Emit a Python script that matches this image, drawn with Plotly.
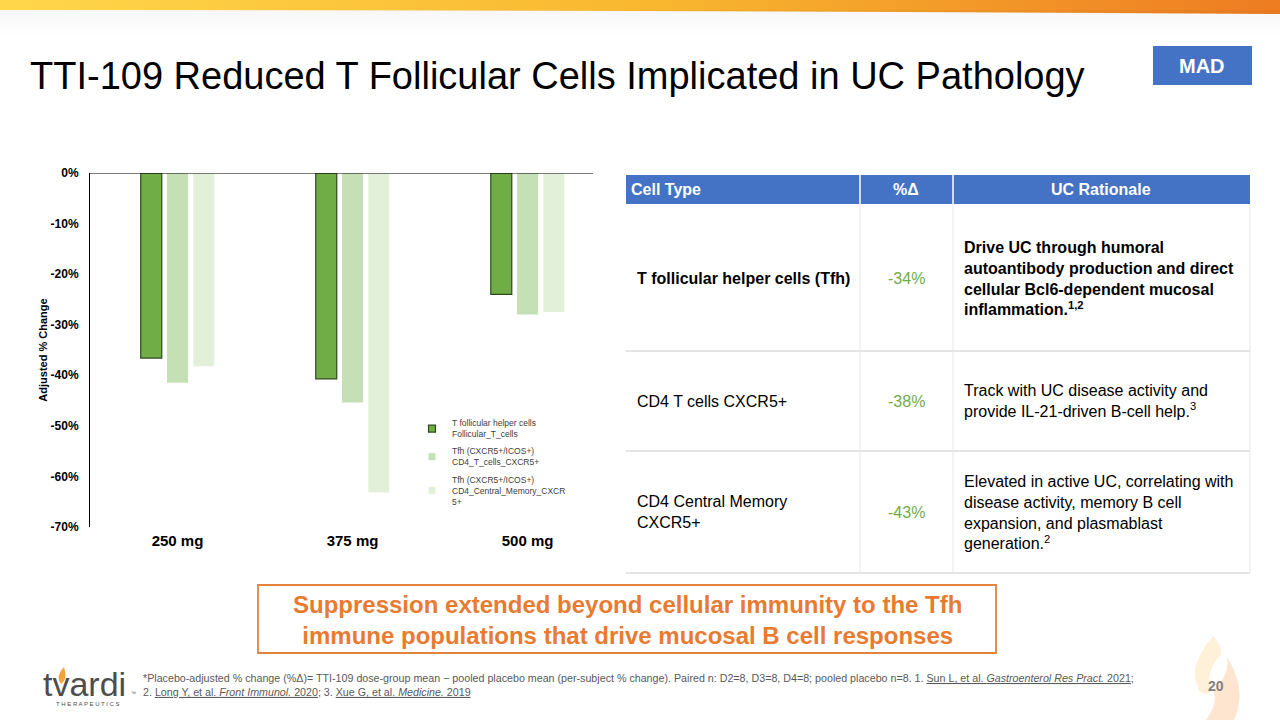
import plotly.graph_objects as go

### DATA

doses = ["250 mg", "375 mg", "500 mg"]
tfh_follicular = [-36.6, -40.7, -24.0]
tfh_cd4_cxcr5 = [-41.5, -45.4, -28.0]
tfh_cd4_cm_cxcr5 = [-38.2, -63.2, -27.5]
series_names = [
    "T follicular helper cells<br>Follicular_T_cells",
    "Tfh (CXCR5+/ICOS+)<br>CD4_T_cells_CXCR5+",
    "Tfh (CXCR5+/ICOS+)<br>CD4_Central_Memory_CXCR<br>5+",
]
y_ticks = [0, -10, -20, -30, -40, -50, -60, -70]

table_header = ["Cell Type", "%Δ", "UC Rationale"]
cell_types = ["<b>T follicular helper cells (Tfh)</b>", "CD4 T cells CXCR5+", "CD4 Central Memory<br>CXCR5+"]
pct_change = ["-34%", "-38%", "-43%"]
rationale = [
    "<b>Drive UC through humoral<br>autoantibody production and direct<br>cellular Bcl6-dependent mucosal<br>inflammation.<sup>1,2</sup></b>",
    "Track with UC disease activity and<br>provide IL-21-driven B-cell help.<sup>3</sup>",
    "Elevated in active UC, correlating with<br>disease activity, memory B cell<br>expansion, and plasmablast<br>generation.<sup>2</sup>",
]

### HELPERS

W, H = 1280, 720
FONT = "Liberation Sans, Arial, sans-serif"


def px(x):
    return x / W


def py(y):
    return 1 - y / H


def note(x, y, text, size=12, color="#000", xanchor="left", yanchor="middle", align="left", bold=False):
    return dict(x=px(x), y=py(y), xref="paper", yref="paper", text=text, showarrow=False,
                xanchor=xanchor, yanchor=yanchor, align=align,
                font=dict(family=FONT, size=size, color=color, weight="bold" if bold else "normal"))


def rect(x0, y0, x1, y1, fill=None, line=None, width=0, layer="above"):
    return dict(type="rect", xref="paper", yref="paper", x0=px(x0), y0=py(y0), x1=px(x1), y1=py(y1),
                fillcolor=fill or "rgba(0,0,0,0)", line=dict(color=line or "rgba(0,0,0,0)", width=width),
                layer=layer)


def hline(x0, x1, y, color, width=1):
    return dict(type="line", xref="paper", yref="paper", x0=px(x0), x1=px(x1), y0=py(y), y1=py(y),
                line=dict(color=color, width=width))


def vline(x, y0, y1, color, width=1):
    return dict(type="line", xref="paper", yref="paper", x0=px(x), x1=px(x), y0=py(y0), y1=py(y1),
                line=dict(color=color, width=width))


def blob(pts, color):
    # pts: list of (cmd, [(x, y), ...]) in pixels
    d = ""
    for cmd, coords in pts:
        d += cmd + " " + " ".join("%.5f,%.5f" % (px(a), py(b)) for a, b in coords) + " "
    return dict(type="path", xref="paper", yref="paper", path=d + "Z", fillcolor=color,
                line=dict(width=0), layer="below")


def mix(c1, c2, t):
    return "rgb(%d,%d,%d)" % tuple(round(a + (b - a) * t) for a, b in zip(c1, c2))


### BARS

bar_colors = ["#70AD47", "#C5E0B4", "#E2F0D9"]
edge_colors = ["#2E4A1C", "#C5E0B4", "#E2F0D9"]
fig = go.Figure()
for k, (name, vals) in enumerate(zip(series_names, [tfh_follicular, tfh_cd4_cxcr5, tfh_cd4_cm_cxcr5])):
    fig.add_trace(go.Bar(
        x=doses, y=vals, name=name, legendgroup=str(k), showlegend=False,
        marker=dict(color=bar_colors[k], line=dict(color=edge_colors[k], width=1.2 if k == 0 else 0)),
        hoverinfo="x+y",
    ))
    # small square legend key, like the original chart
    fig.add_trace(go.Scatter(
        x=[None], y=[None], mode="markers", name=name, legendgroup=str(k),
        marker=dict(symbol="square", size=7, color=bar_colors[k],
                    line=dict(color=edge_colors[k], width=1.2 if k == 0 else 0)),
    ))

shapes = []

# top banner gradient
yellow, amber, orange = (255, 214, 74), (249, 184, 48), (238, 125, 34)
n = 80
for i in range(n):
    t = i / (n - 1)
    col = mix(yellow, amber, t * 2) if t < 0.5 else mix(amber, orange, (t - 0.5) * 2)
    x0 = W * i / n
    bottom = 10 + 4 * t * t
    shapes.append(rect(x0, 0, x0 + W / n + 0.5, bottom, fill=col, layer="below"))
for j in range(6):
    shapes.append(rect(0, 10 + 4 * j, W, 14 + 4 * j, fill="rgba(0,0,0,%.3f)" % (0.03 - 0.005 * j), layer="below"))

# zero line of the chart
shapes.append(dict(type="line", xref="x domain", yref="y", x0=0, x1=1, y0=0, y1=0,
                   line=dict(color="#000", width=1)))

# MAD badge
shapes.append(rect(1153, 46, 1252, 85, fill="#4472C4"))

# table
tx = [626, 860, 953, 1250]
row_y = [175, 204, 351, 451, 573]
shapes.append(rect(tx[0], row_y[0], tx[3], row_y[1], fill="#4472C4"))
for x in tx[1:3]:
    shapes.append(vline(x, row_y[0], row_y[1], "#FFFFFF", 1.5))
    shapes.append(vline(x, row_y[1], row_y[4], "#EFEFEF", 1.5))
shapes.append(vline(tx[3], row_y[1], row_y[4], "#EFEFEF", 1.5))
for y in row_y[2:]:
    shapes.append(hline(tx[0], tx[3], y, "#E4E4E4", 2))

# callout box
shapes.append(rect(258, 585, 996, 653, line="#E3843E", width=1.8))

# watermark flames
shapes.append(blob([("M", [(1213, 636)]), ("Q", [(1186, 668), (1199, 690)]), ("Q", [(1206, 698), (1212, 690)]),
                    ("Q", [(1204, 672), (1221, 655)]), ("Q", [(1222, 646), (1213, 636)])], "#FEF1D8"))
shapes.append(blob([("M", [(1227, 657)]), ("Q", [(1248, 690), (1234, 720)]), ("L", [(1206, 720)]),
                    ("Q", [(1219, 702), (1213, 690)]), ("Q", [(1230, 676), (1227, 657)])], "#FDE5CF"))

# logo flame
shapes.append(blob([("M", [(64, 667)]), ("Q", [(55, 676), (61, 684)]), ("Q", [(68, 680), (64, 667)])], "#F3A33A"))

annotations = []

# title
annotations.append(note(28, 76, "TTI-109 Reduced T Follicular Cells Implicated in UC Pathology", size=38, color="#000"))
annotations.append(note(1202, 66, "MAD", size=20, color="#FFFFFF", xanchor="center", bold=True))

# table text
hdr_x = [(629, "left"), (906, "center"), (1101, "center")]
for (x, anc), txt in zip(hdr_x, table_header):
    annotations.append(note(x, 190, txt, size=16, color="#FFFFFF", xanchor=anc, bold=True))
row_mid = [279, 401, 512]
for i in range(3):
    annotations.append(note(635, row_mid[i], cell_types[i], size=16, color="#000"))
    annotations.append(note(906, row_mid[i], pct_change[i], size=16, color="#70AD47", xanchor="center"))
    annotations.append(note(962, row_mid[i], rationale[i], size=16, color="#000"))

# callout text
annotations.append(note(627, 620, "Suppression extended beyond cellular immunity to the Tfh<br>immune populations that drive mucosal B cell responses",
                        size=24, color="#E87B30", xanchor="center", align="center", bold=True))

# footer
ul = "<span style='text-decoration:underline'>%s</span>"
foot = ("*Placebo-adjusted % change (%Δ)= TTI-109 dose-group mean − pooled placebo mean (per-subject % change). "
        "Paired n: D2=8, D3=8, D4=8; pooled placebo n=8. 1. " + ul % "Sun L, et al. <i>Gastroenterol Res Pract.</i> 2021" + ";<br>"
        "2. " + ul % "Long Y, et al. <i>Front Immunol.</i> 2020" + "; 3. " + ul % "Xue G, et al. <i>Medicine.</i> 2019")
annotations.append(note(141, 685, foot, size=10.7, color="#595959"))
annotations.append(note(1216, 686, "20", size=14, color="#7F7F7F", xanchor="center", bold=True))
annotations.append(note(84, 684, "tvardi", size=34, color="#4D4D4D", xanchor="center"))
annotations.append(note(129, 693, "™", size=5, color="#4D4D4D"))
annotations.append(note(88, 704, "T H E R A P E U T I C S", size=6, color="#4D4D4D", xanchor="center"))

fig.update_layout(
    width=W, height=H,
    margin=dict(l=0, r=0, t=0, b=0, autoexpand=False),
    paper_bgcolor="white", plot_bgcolor="white",
    barmode="group", bargap=0.55, bargroupgap=0.2,
    font=dict(family=FONT, color="#000"),
    showlegend=True,
    legend=dict(x=px(412), y=py(411), xanchor="left", yanchor="top", bgcolor="rgba(0,0,0,0)",
                font=dict(family=FONT, size=8.5, color="#404040"), tracegroupgap=3, itemwidth=30),
    xaxis=dict(domain=[px(90), px(593)], range=[-0.5, 2.374], showgrid=False, zeroline=False,
               showline=False, ticks="", ticklabelstandoff=3,
               tickfont=dict(family=FONT, size=15, color="#000", weight="bold")),
    yaxis=dict(domain=[py(527), py(173)], range=[-70, 0], tickvals=y_ticks,
               ticktext=["%d%%" % v for v in y_ticks], showgrid=False, zeroline=False,
               showline=True, linecolor="#000", linewidth=1, ticks="", ticklabelstandoff=8,
               tickfont=dict(family=FONT, size=12, color="#000", weight="bold")),
    shapes=shapes,
    annotations=annotations,
)
fig.update_yaxes(title=dict(text="Adjusted % Change", standoff=0,
                            font=dict(family=FONT, size=11, color="#000", weight="bold")))

fig.write_html("out.html", config={"displayModeBar": False},
               post_script="document.body.style.margin='0';")
